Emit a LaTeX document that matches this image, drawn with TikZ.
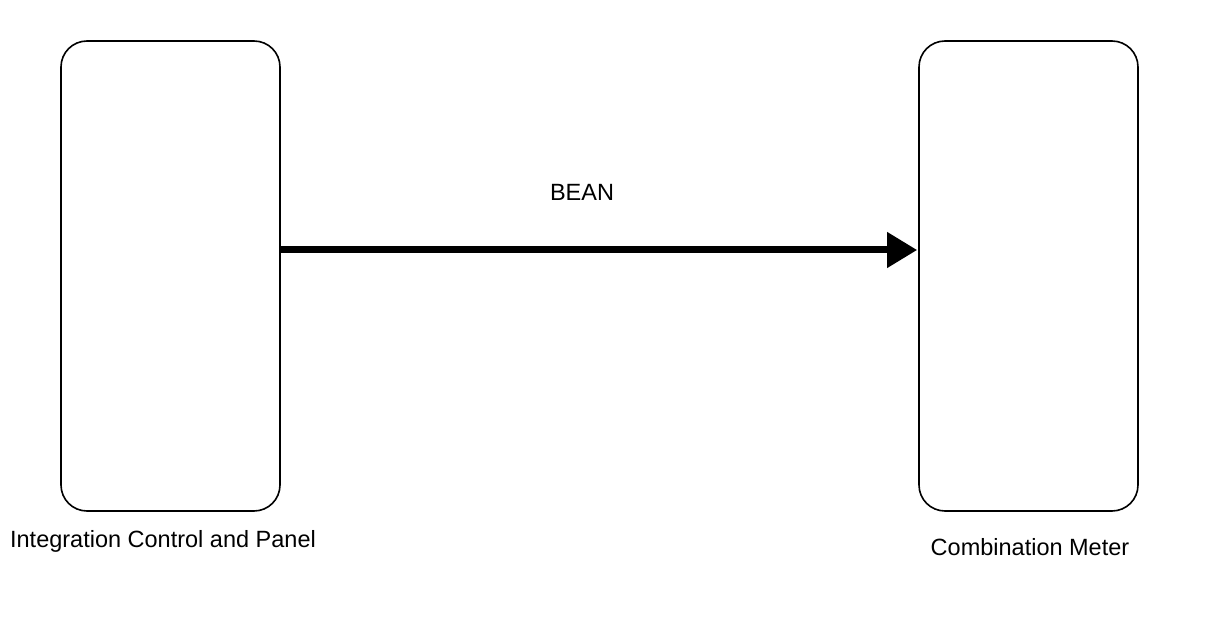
\documentclass[tikz,border=0pt]{standalone}
\usepackage{fontspec}
\setmainfont{Liberation Sans}
\usepackage{tikz}
\usetikzlibrary{positioning,arrows.meta}

\begin{document}
\begin{tikzpicture}[x=1pt,y=-1pt,
  ecu/.style = {draw, line width=1.6pt, rounded corners=26pt, minimum width=219pt, minimum height=470pt, inner sep=0pt},
  lbl/.style = {font=\fontsize{23.5}{27}\selectfont, inner sep=0pt}]
\useasboundingbox (0,0) rectangle (1208,644);
%\draw (0,0) grid (1208,644);
\node[ecu] (icp) at (170.5,276) {};
\node[ecu] (cmb) at (1028.5,276) {};
\draw[line width = 7pt, -{Triangle[length=30pt,width=34pt]}] ([yshift=26pt]icp.east) -- ([yshift=26pt,xshift=-1pt]cmb.west);
\path (582, 192) node[lbl] (bean) {BEAN};
\path (163, 541) node[lbl] (icplbl) {Integration Control and Panel};
\path (1030, 547) node[lbl] (cmblbl) {Combination Meter};
\end{tikzpicture}
\end{document}
